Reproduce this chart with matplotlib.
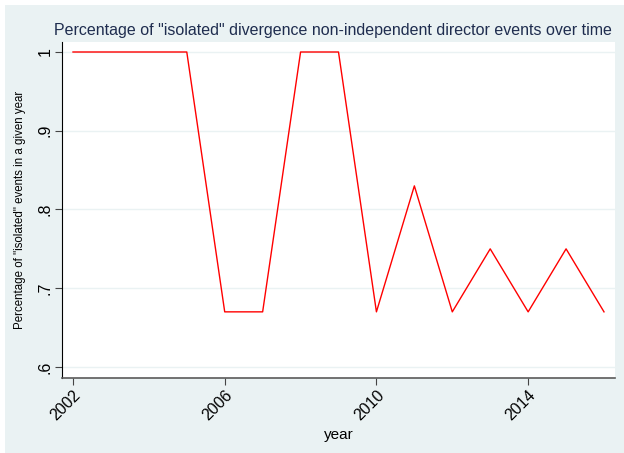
import matplotlib
matplotlib.use("Agg")
import matplotlib.pyplot as plt
from matplotlib.patches import Rectangle

plt.rcParams["font.family"] = ["Liberation Sans", "DejaVu Sans"]

# yearly share of isolated events
years = list(range(2002, 2017))
share = [1, 1, 1, 1, .67, .67, 1, 1, .67, .83, .67, .75, .67, .75, .67]

x_ticks = [2002, 2006, 2010, 2014]
y_ticks = [.6, .7, .8, .9, 1]
y_tick_labels = [".6", ".7", ".8", ".9", "1"]

bg = "#eaf2f3"
W, H = 624, 453

fig = plt.figure(figsize=(W / 100, H / 100), dpi=100, facecolor="white")
fig.patches.append(Rectangle((5 / W, 0), 1, (H - 5) / H,
                             transform=fig.transFigure, facecolor=bg,
                             edgecolor="none", zorder=-1))

ax = fig.add_axes([62 / W, 1 - 378 / H, (615 - 62) / W, (378 - 42) / H])
ax.set_facecolor("white")
ax.plot(years, share, color="#ff0000", lw=1.0)

ax.set_xlim(2001.71, 2016.29)
ax.set_ylim(0.586, 1.0127)
ax.set_xticks(x_ticks)
ax.set_xticklabels([str(t) for t in x_ticks], rotation=45, ha="right",
                   rotation_mode="anchor", fontsize=11.5)
ax.set_yticks(y_ticks)
ax.set_yticklabels(y_tick_labels, rotation=90, va="center", fontsize=11.5)
ax.grid(axis="y", color="#eaf2f3", lw=1.0)
ax.set_axisbelow(True)

for s in ["top", "right"]:
    ax.spines[s].set_visible(False)
ax.spines["left"].set_color("#000000")
ax.spines["left"].set_linewidth(0.8)
ax.spines["bottom"].set_color("#5a5a5a")
ax.spines["bottom"].set_linewidth(1.2)
ax.tick_params(direction="out", length=5, color="#444444", width=0.8, pad=2)

ax.set_xlabel("year", fontsize=11, labelpad=3)
ax.set_ylabel('Percentage of "isolated" events in a given year', fontsize=8.3,
              labelpad=8)
fig.text(333 / W, 1 - 31 / H,
         'Percentage of "isolated" divergence non-independent director events over time',
         ha="center", va="center", fontsize=11.5, color="#1f2d4f")

fig.savefig("out.png", dpi=100, facecolor="white")
